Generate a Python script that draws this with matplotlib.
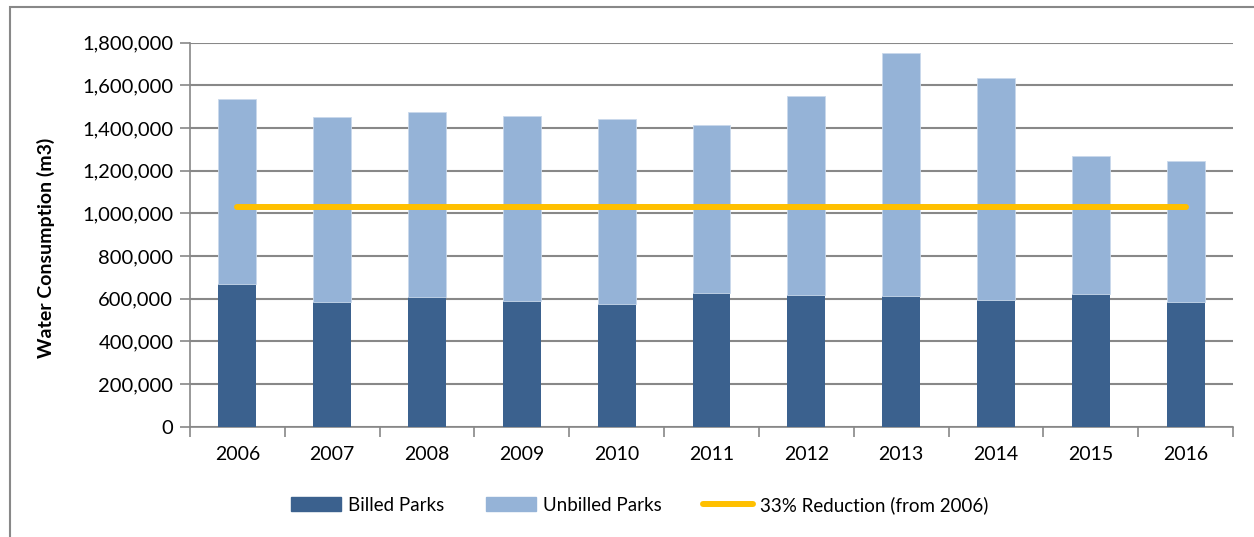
import matplotlib.pyplot as plt
from matplotlib.patches import Rectangle
from matplotlib.lines import Line2D
from matplotlib.ticker import FuncFormatter, FixedLocator

years = ['2006', '2007', '2008', '2009', '2010', '2011', '2012', '2013', '2014', '2015', '2016']
billed = [669000, 584000, 606000, 589000, 575000, 627000, 616000, 611000, 594000, 620000, 586000]
totals = [1536000, 1452000, 1474000, 1455000, 1442000, 1414000, 1552000, 1750000, 1633000, 1267000, 1244000]
unbilled = [t - b for t, b in zip(totals, billed)]
target = [round(totals[0] * 0.67, -3)] * len(years)

plt.rcParams['font.family'] = ['Lato', 'DejaVu Sans']

fig = plt.figure(figsize=(12.54, 5.37), dpi=100)
ax = fig.add_axes([0.1515, 0.2054, 0.9833 - 0.1515, 0.9205 - 0.2054])

grey = '#888888'
x = list(range(len(years)))
ax.bar(x, billed, width=0.4, color='#3B618E', edgecolor='none', label='Billed Parks', zorder=3)
ax.bar(x, unbilled, width=0.4, bottom=billed, color='#95B3D7', edgecolor='#C9D9EC',
       linewidth=0.6, label='Unbilled Parks', zorder=3)
ax.plot(x, target, color='#FFC000', linewidth=4.3, solid_capstyle='round', zorder=4)

ax.set_xlim(-0.5, len(years) - 0.5)
ax.set_ylim(0, 1800000)
ax.set_yticks(range(0, 1800001, 200000))
ax.yaxis.set_major_formatter(FuncFormatter(lambda v, p: f'{int(v):,}'))
ax.grid(axis='y', color=grey, linewidth=1.5, zorder=0)

ax.set_xticks(x)
ax.set_xticklabels(years)
ax.xaxis.set_minor_locator(FixedLocator([i + 0.5 for i in range(-1, len(years))]))
ax.tick_params(axis='x', which='major', length=0, pad=14, labelsize=14)
ax.tick_params(axis='x', which='minor', length=7, width=1.2, color=grey)
ax.tick_params(axis='y', length=7, width=1.2, color=grey, labelsize=14.5, pad=5)

for s in ['top', 'right']:
    ax.spines[s].set_visible(False)
for s in ['left', 'bottom']:
    ax.spines[s].set_color(grey)
    ax.spines[s].set_linewidth(1.2)

ax.set_ylabel('Water Consumption (m3)', fontsize=14, fontweight='bold')
ax.yaxis.set_label_coords(-0.129, 0.465)

handles = [Rectangle((0, 0), 1, 1, color='#3B618E'),
           Rectangle((0, 0), 1, 1, color='#95B3D7'),
           Line2D([0], [0], color='#FFC000', linewidth=4.3, solid_capstyle='round')]
fig.legend(handles, ['Billed Parks', 'Unbilled Parks', '33% Reduction (from 2006)'],
           loc='center', bbox_to_anchor=(0.51, 0.06), ncol=3, frameon=False,
           fontsize=13.5, handlelength=2.7, handleheight=0.8, columnspacing=2.2, handletextpad=0.35)

fig.patches.append(Rectangle((0.008, -0.1), 1.2, 1.1 - 0.0125, transform=fig.transFigure,
                             fill=False, edgecolor=grey, linewidth=1.5))

fig.savefig('out.png', dpi=100)
